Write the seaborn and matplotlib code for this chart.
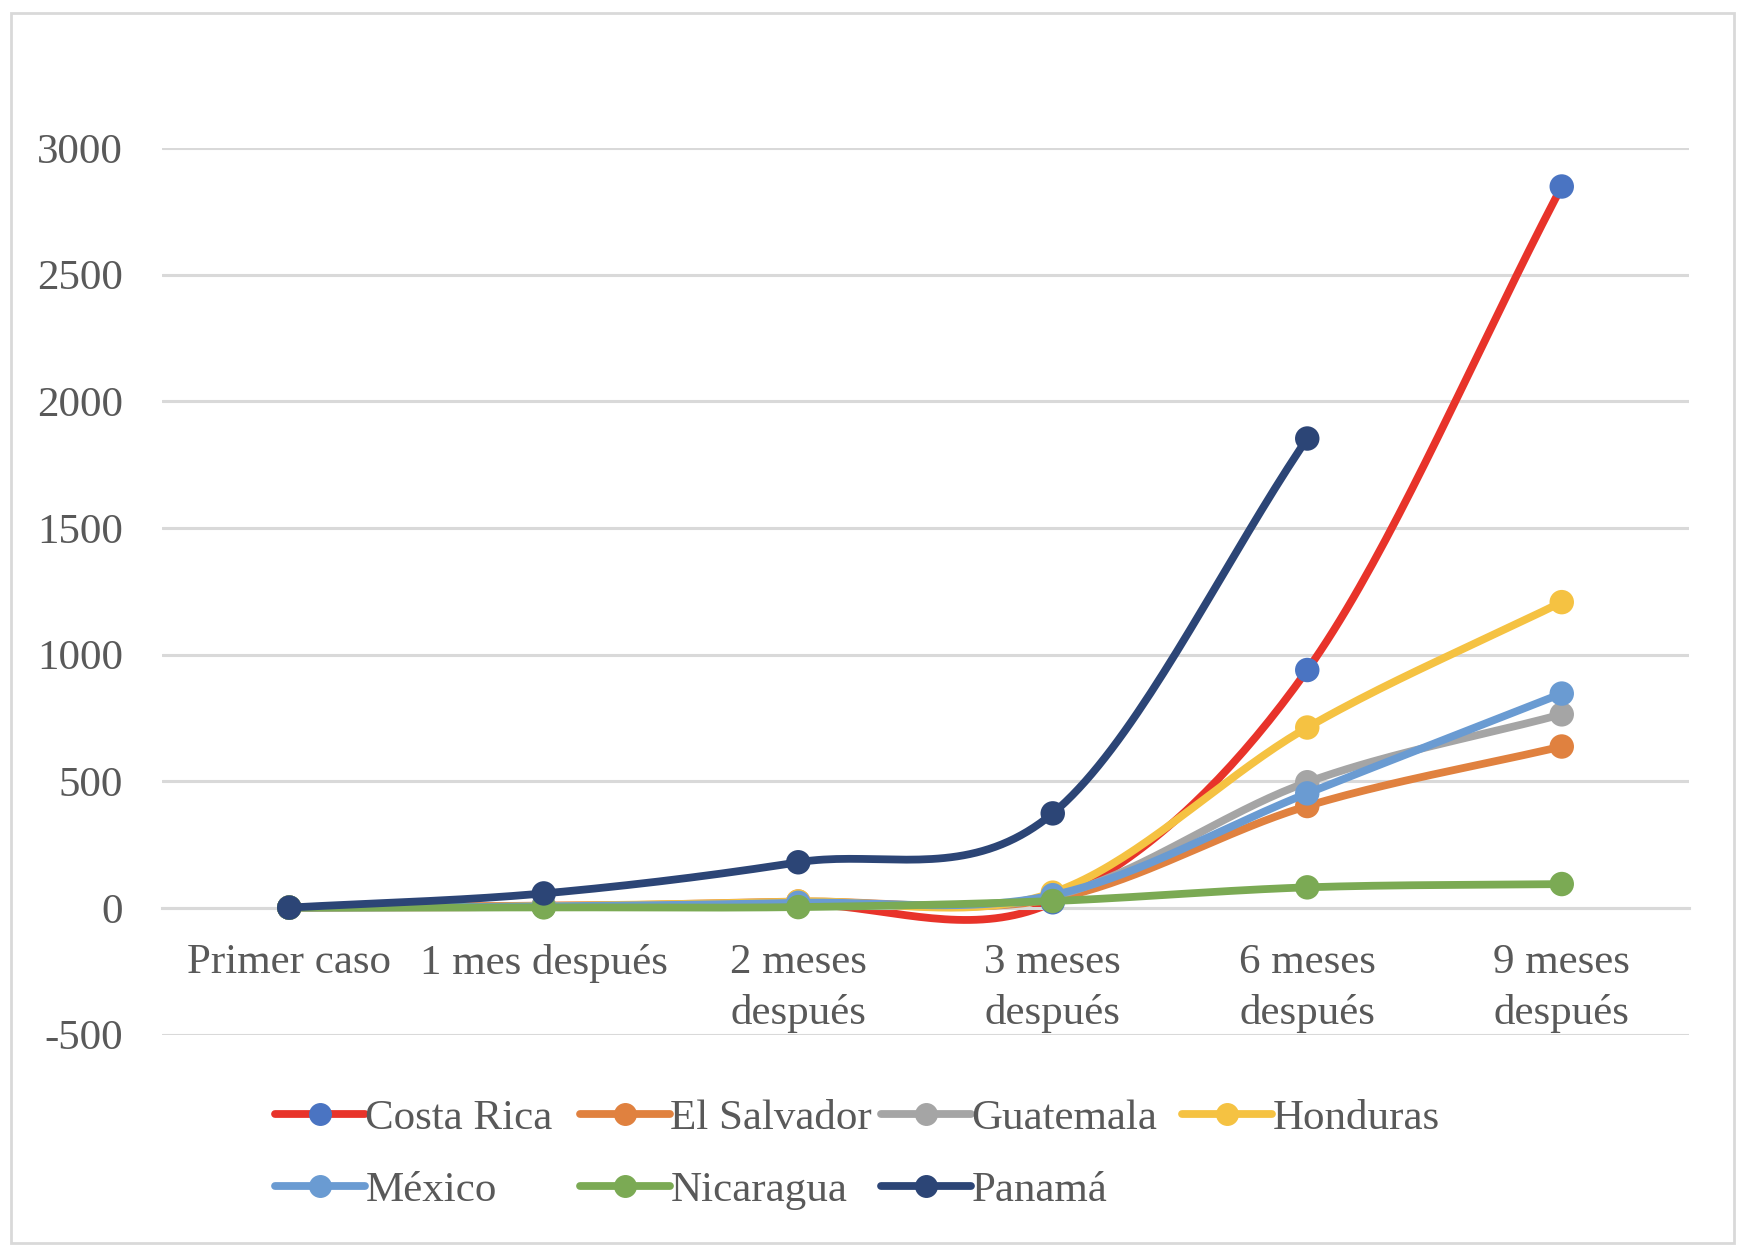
import numpy as np
import pandas as pd
import matplotlib
matplotlib.use("Agg")
import matplotlib.pyplot as plt
from matplotlib.lines import Line2D
from matplotlib.patches import Rectangle
import seaborn as sns

# datos
categorias = ['Primer caso', '1 mes después', '2 meses\ndespués', '3 meses\ndespués',
              '6 meses\ndespués', '9 meses\ndespués']
paises = ['Costa Rica', 'El Salvador', 'Guatemala', 'Honduras', 'México', 'Nicaragua', 'Panamá']
costa_rica = [1, 9, 15, 22, 939, 2848]
el_salvador = [1, 5, 25, 35, 402, 637]
guatemala = [1, 4, 20, 45, 496, 764]
honduras = [1, 8, 25, 60, 712, 1207]
mexico = [1, 6, 20, 50, 452, 846]
nicaragua = [1, 2, 3, 27, 81, 94]
panama = [1, 57, 180, 373, 1853, np.nan]
y_ticks = [-500, 0, 500, 1000, 1500, 2000, 2500, 3000]

series = [costa_rica, el_salvador, guatemala, honduras, mexico, nicaragua, panama]
line_colors = ['#E8332A', '#E0813F', '#A5A5A5', '#F5C242', '#6A9BD2', '#7BAA54', '#2C4576']
marker_colors = ['#4A74C2', '#E0813F', '#A5A5A5', '#F5C242', '#6A9BD2', '#7BAA54', '#2C4576']

sns.set_style("white")
plt.rcParams['font.family'] = ['Liberation Serif', 'DejaVu Serif']
TXT = '#595959'
FS = 31
LW = 5.6


def suavizar(vals, n=40):
    """curva suavizada tipo Excel (Hermite / Catmull-Rom)"""
    p = np.array([v for v in vals if not np.isnan(v)], dtype=float)
    k = len(p)
    m = np.zeros(k)
    m[0] = p[1] - p[0]
    m[-1] = p[-1] - p[-2]
    for i in range(1, k - 1):
        m[i] = (p[i + 1] - p[i - 1]) / 2
    xs, ys = [], []
    for i in range(k - 1):
        t = np.linspace(0, 1, n, endpoint=(i == k - 2))
        h00 = 2 * t**3 - 3 * t**2 + 1
        h10 = t**3 - 2 * t**2 + t
        h01 = -2 * t**3 + 3 * t**2
        h11 = t**3 - t**2
        ys.append(h00 * p[i] + h10 * m[i] + h01 * p[i + 1] + h11 * m[i + 1])
        xs.append(i + t)
    return np.concatenate(xs), np.concatenate(ys)


fig = plt.figure(figsize=(17.48, 12.6), dpi=100)
ax = fig.add_axes([162 / 1748, 1 - 1034.5 / 1260, (1689 - 162) / 1748, (1034.5 - 148) / 1260])

for i, (nombre, vals) in enumerate(zip(paises, series)):
    xs, ys = suavizar(vals)
    df = pd.DataFrame({'x': xs, 'y': ys})
    sns.lineplot(data=df, x='x', y='y', ax=ax, color=line_colors[i], linewidth=LW,
                 sort=False, estimator=None, zorder=2 + 2 * i)
    pts = pd.DataFrame({'x': np.arange(len(vals)), 'y': vals}).dropna()
    sns.scatterplot(data=pts, x='x', y='y', ax=ax, color=marker_colors[i], s=310,
                    edgecolor='none', zorder=3 + 2 * i)

# eje horizontal en y=0 (antes de fijar las etiquetas, porque reinicia los ticks)
for s in ['top', 'left', 'right']:
    ax.spines[s].set_visible(False)
ax.spines['bottom'].set_position(('data', 0))
ax.spines['bottom'].set_color('#D9D9D9')
ax.spines['bottom'].set_linewidth(2.2)

ax.set_xlim(-0.5, 5.5)
ax.set_ylim(-500, 3000)
ax.set_yticks(y_ticks)
ax.set_yticklabels([str(v) for v in y_ticks], fontsize=FS, color=TXT)
ax.set_xticks(range(len(categorias)))
ax.set_xticklabels(categorias, fontsize=FS, color=TXT, linespacing=1.4)
ax.tick_params(axis='y', length=0, pad=28)
ax.tick_params(axis='x', length=0, pad=26)
ax.set_xlabel('')
ax.set_ylabel('')
ax.grid(axis='y', color='#D9D9D9', linewidth=2.2)
ax.grid(axis='x', visible=False)
ax.set_axisbelow(True)

# leyenda: 4 columnas de ancho igual
handles = [Line2D([0], [0], color=line_colors[i], lw=LW, marker='o', markersize=15.5,
                  markerfacecolor=marker_colors[i], markeredgecolor=marker_colors[i])
           for i in range(len(paises))]
col_x = [275, 580, 881, 1182]
for c in range(4):
    idx = list(range(c, len(paises), 4))
    leg = fig.legend([handles[j] for j in idx], [paises[j] for j in idx],
                     loc='upper left', bbox_to_anchor=(col_x[c] / 1748, 1 - 1099 / 1260),
                     frameon=False, fontsize=FS, handlelength=2.1, handletextpad=0.0,
                     labelspacing=0.76, borderpad=0, borderaxespad=0, numpoints=1)
    for t in leg.get_texts():
        t.set_color(TXT)

fig.patches.append(Rectangle((11 / 1748, 1 - 1243 / 1260), (1734 - 11) / 1748, (1243 - 13) / 1260,
                             transform=fig.transFigure, fill=False, edgecolor='#D9D9D9', lw=2))

fig.savefig('out.png', dpi=100)
